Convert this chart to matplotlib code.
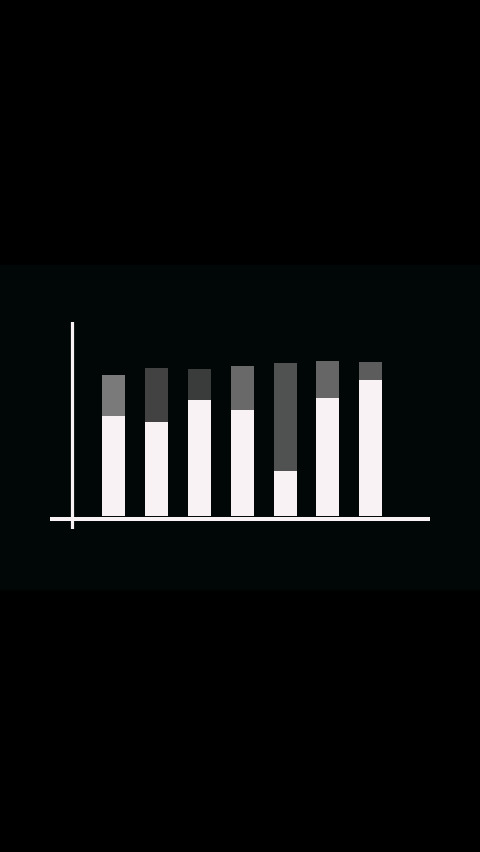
import matplotlib
matplotlib.use('Agg')
import matplotlib.pyplot as plt
from matplotlib.patches import Rectangle
import numpy as np

# data
categories = ['A', 'B', 'C', 'D', 'E', 'F', 'G']
base = [100, 94, 116, 106, 45, 118, 136]
top = [41, 54, 31, 44, 108, 37, 18]
top_colors = ['#7a7a7a', '#424242', '#3a3c3b', '#696969', '#505252', '#666666', '#5c5c5c']

W, H = 480, 853
fig = plt.figure(figsize=(W / 100, H / 100), dpi=100)
fig.patch.set_facecolor('#000000')

# dark teal band behind the chart
fig.patches.append(Rectangle((0, (H - 590) / H), 1, 324 / H,
                             transform=fig.transFigure, color='#010607', zorder=-5))

# axes placed in pixel terms
left, right, ytop, ybot = 50, 430, 323, 530
ax = fig.add_axes([left / W, (H - ybot) / H, (right - left) / W, (ybot - ytop) / H])
ax.set_zorder(2)
ax.patch.set_alpha(0)

step = 42.85
x0 = 113.7
x = np.arange(len(categories))
ax.set_xlim((left - x0) / step, (right - x0) / step)
ax.set_ylim(516.7 - ybot, 516.7 - ytop)

white = '#f8f2f4'
ax.bar(x, base, width=0.537, color=white, zorder=2)
ax.bar(x, top, bottom=base, width=0.537, color=top_colors, zorder=2)

# axis lines
ax.axvline((71.5 - x0) / step, color=white, lw=2.3, zorder=3)
ax.axhline(516.7 - 519.5, color=white, lw=2.9, zorder=3)

ax.axis('off')
fig.savefig('out.png', dpi=100, facecolor=fig.get_facecolor())
